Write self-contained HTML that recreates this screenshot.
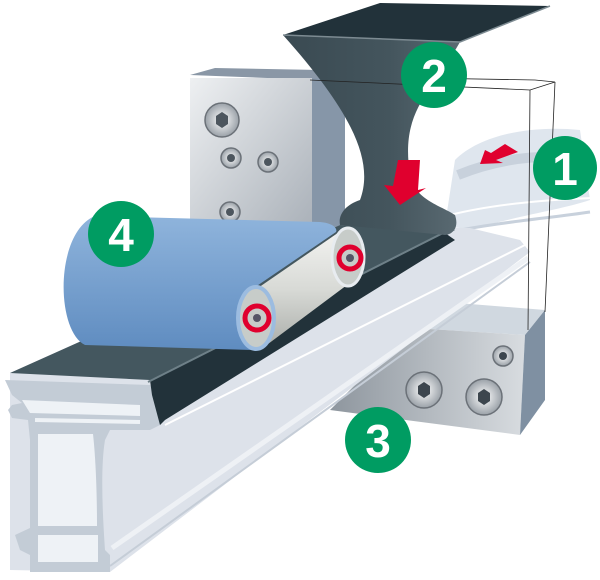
<!DOCTYPE html>
<html><head><style>
html,body{margin:0;padding:0;background:#fff;width:600px;height:580px;overflow:hidden}
svg{display:block}
text{font-family:"Liberation Sans",sans-serif;font-weight:bold;fill:#fff}
</style></head><body>
<svg width="600" height="580" viewBox="0 0 600 580" xmlns="http://www.w3.org/2000/svg">
<defs>
<linearGradient id="blk" x1="0" y1="0" x2="1" y2="1"><stop offset="0" stop-color="#eef0f2"/><stop offset="1" stop-color="#a9b0b8"/></linearGradient>
<linearGradient id="blk2" x1="0" y1="0" x2="1" y2="0"><stop offset="0" stop-color="#8e969e"/><stop offset="1" stop-color="#d8dce0"/></linearGradient>
<linearGradient id="fun" x1="0" y1="0" x2="1" y2="0"><stop offset="0" stop-color="#3a4a52"/><stop offset="0.6" stop-color="#44555d"/><stop offset="1" stop-color="#5a6a72"/></linearGradient>
<linearGradient id="belt" x1="0" y1="0" x2="0" y2="1"><stop offset="0" stop-color="#8fb4dc"/><stop offset="1" stop-color="#5f8cc0"/></linearGradient>
<linearGradient id="roll" x1="0" y1="0" x2="0" y2="1"><stop offset="0" stop-color="#f4f4f2"/><stop offset="0.5" stop-color="#d8dad6"/><stop offset="1" stop-color="#a9aca8"/></linearGradient>
<radialGradient id="bolt"><stop offset="0" stop-color="#fff"/><stop offset="1" stop-color="#9aa1a8"/></radialGradient>
</defs>

<!-- sheet coming from right -->
<path d="M455,160 C480,135 530,125 580,130 L590,200 C560,210 520,215 470,230 L445,225 Z" fill="#dfe6ee"/>
<path d="M458,175 C495,160 540,152 592,160" stroke="#c8d1dc" stroke-width="10" fill="none"/>
<path d="M450,215 C490,205 540,200 592,198" stroke="#fff" stroke-width="2" fill="none"/>
<path d="M450,232 C500,222 550,218 590,212" stroke="#c8d1dc" stroke-width="3" fill="none"/>

<!-- left block -->
<polygon points="190,75 215,68 320,70 320,80" fill="#8a97a6"/>
<rect x="190" y="78" width="122" height="155" fill="url(#blk)"/>
<polygon points="312,78 320,78 345,82 345,230 312,233" fill="#8696a8"/>
<g>
<circle cx="222" cy="120" r="17" fill="url(#bolt)" stroke="#6b7178" stroke-width="1.5"/><polygon points="216,116 222,112 228,116 228,124 222,128 216,124" fill="#4d565e"/>
<circle cx="231" cy="158" r="10" fill="url(#bolt)" stroke="#6b7178" stroke-width="1.5"/><circle cx="231" cy="158" r="4" fill="#4d565e"/>
<circle cx="268" cy="162" r="10" fill="url(#bolt)" stroke="#6b7178" stroke-width="1.5"/><circle cx="268" cy="162" r="4" fill="#4d565e"/>
<circle cx="230" cy="212" r="10" fill="url(#bolt)" stroke="#6b7178" stroke-width="1.5"/><circle cx="230" cy="212" r="4" fill="#4d565e"/>
</g>

<!-- lower right block -->
<polygon points="420,300 545,310 525,335 380,326" fill="#d0d8e0"/>
<polygon points="380,326 525,335 520,435 330,410 360,380" fill="url(#blk2)"/>
<polygon points="525,335 545,310 545,400 520,435" fill="#7f90a2"/>
<circle cx="424" cy="390" r="18" fill="url(#bolt)" stroke="#6b7178" stroke-width="1.5"/><polygon points="418,386 424,382 430,386 430,394 424,398 418,394" fill="#3d464e"/>
<circle cx="484" cy="397" r="18" fill="url(#bolt)" stroke="#6b7178" stroke-width="1.5"/><polygon points="478,393 484,389 490,393 490,401 484,405 478,401" fill="#3d464e"/>
<circle cx="503" cy="356" r="10" fill="url(#bolt)" stroke="#6b7178" stroke-width="1.5"/><circle cx="503" cy="356" r="4" fill="#3d464e"/>

<!-- white profile extrusion -->
<polygon points="10,373 340,225 470,228 520,240 530,252 110,572 10,570" fill="#dde2ea"/>
<path d="M165,425 L525,245" stroke="#fff" stroke-width="2"/>
<path d="M112,548 L528,258" stroke="#eef1f5" stroke-width="5"/>
<path d="M110,566 L530,262" stroke="#c5cdd7" stroke-width="2"/>
<!-- front cross-section -->
<path d="M5,380 L150,385 C160,390 165,420 160,425 L150,430 L110,430 L105,440 C100,470 103,520 105,550 L110,555 L110,572 L30,572 L30,555 L20,550 L15,535 L30,528 L30,440 L28,420 L12,418 L8,410 L12,405 L22,403 L12,395 Z" fill="#c3ccd6"/>
<path d="M22,400 L140,405 L140,416 L30,413 Z" fill="#eef2f6"/>
<path d="M38,434 L93,434 C97,470 97,520 97,526 L38,526 Z" fill="#eef2f6"/>
<path d="M38,535 L98,535 L98,562 L38,562 Z" fill="#eef2f6"/>
<path d="M35,420 L140,422" stroke="#eef2f6" stroke-width="4"/>

<!-- dark strip -->
<polygon points="10,373 340,225 455,230 160,385 150,380" fill="#44575f"/>
<polygon points="150,380 445,233 455,240 165,420 160,425 152,395" fill="#22323a"/>
<path d="M148,382 L445,232" stroke="#6e8088" stroke-width="2"/>

<!-- funnel -->
<path d="M283,35 L460,42 C430,95 400,110 410,175 C415,200 440,205 455,215 C460,230 450,235 445,235 L340,225 C338,215 345,205 360,200 C375,160 350,110 283,35 Z" fill="url(#fun)"/>
<polygon points="283,35 380,3 550,6 460,42" fill="#22323a"/>
<path d="M283,35 L460,42 L550,6" stroke="#7d8b92" stroke-width="1.5" fill="none"/>
<!-- red arrows -->
<path d="M398,160 L420,160 L418,190 L426,188 L400,205 L384,185 L393,186 Z" fill="#e0002e"/>
<path d="M505,144 L518,152 L496,160 L503,163 L480,164 L485,150 L491,153 Z" fill="#e0002e"/>

<!-- wireframe box -->
<g stroke="#222" stroke-width="0.8" fill="none">
<path d="M310,80 L530,90 L555,82 L535,80"/>
<path d="M530,90 L528,330 M555,82 L545,312"/>
<path d="M420,78 L535,80"/>
</g>

<!-- roller cylinder -->
<path d="M255,290 L345,228 L347,285 L260,350 Z" fill="url(#roll)"/>
<!-- belt -->
<path d="M95,216 L320,222 C332,223 338,228 336,232 L248,292 L252,350 L85,345 C55,330 55,232 95,216 Z" fill="url(#belt)"/>
<ellipse cx="348" cy="257" rx="16" ry="29" fill="#c7ccc9" stroke="#e8ecf0" stroke-width="3"/>
<circle cx="350" cy="258" r="11" fill="none" stroke="#e0002e" stroke-width="5"/><circle cx="350" cy="258" r="4" fill="#556"/>
<ellipse cx="256" cy="318" rx="18" ry="31" fill="#c7ccc9" stroke="#9cbce0" stroke-width="4"/>
<circle cx="257" cy="318" r="12" fill="none" stroke="#e0002e" stroke-width="5"/><circle cx="257" cy="318" r="4" fill="#556"/>

<!-- badges -->
<g fill="#009c62">
<circle cx="565" cy="168" r="32"/><circle cx="434" cy="75" r="33"/><circle cx="378" cy="440" r="33"/><circle cx="121" cy="234" r="33"/>
</g>
<text x="565" y="185" font-size="46" text-anchor="middle">1</text>
<text x="434" y="92" font-size="46" text-anchor="middle">2</text>
<text x="378" y="457" font-size="46" text-anchor="middle">3</text>
<text x="121" y="251" font-size="46" text-anchor="middle">4</text>
</svg>
</body></html>
